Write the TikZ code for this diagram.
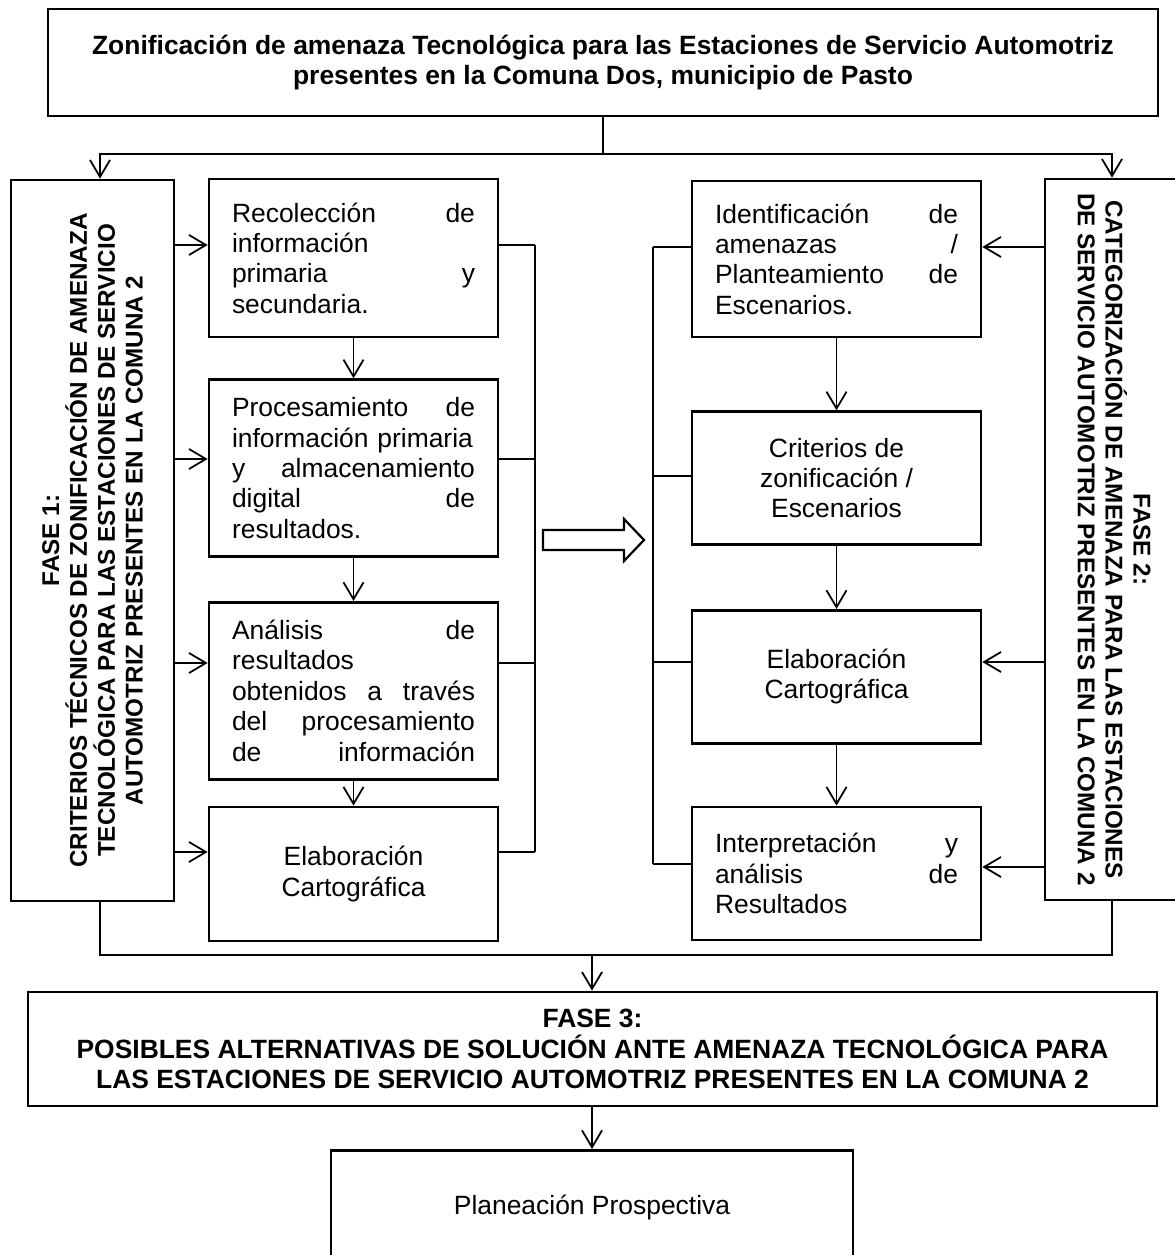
\documentclass[tikz,border=0pt]{standalone}
\usepackage{fontspec}
\setmainfont{Liberation Sans}
\usetikzlibrary{positioning,arrows.meta,calc}
\newlength\px
\setlength\px{0.454pt}
\tikzset{
  box/.style      = {draw, line width=1.2pt, inner sep=0pt, minimum width=289\px,
                     font=\fontsize{12}{13.8}\selectfont},
  jbox/.style     = {box, align=left, text width=243\px},
  cbox/.style     = {box, align=center},
  phase/.style    = {draw, line width=1.2pt, inner sep=0pt},
  phasetxt/.style = {font=\fontsize{12}{13.8}\selectfont\bfseries, align=center},
  sidetxt/.style  = {font=\fontsize{11}{12.65}\selectfont\bfseries, align=center},
  flow/.style     = {-{Straight Barb[length=7.7pt,width=9.1pt]}, line width=0.8pt},
  link/.style     = {line width=0.8pt},
}
\begin{document}
\begin{tikzpicture}[x=\px, y=-\px]
\useasboundingbox (0,0) rectangle (1174,1255);

\node[box, phasetxt, minimum width=1110\px, minimum height=107\px] (title) at (603,62.5)
  {Zonificación de amenaza Tecnológica para las Estaciones de Servicio Automotriz\\
   presentes en la Comuna Dos, municipio de Pasto};

% fase 1 and its steps
\node[phase, minimum width=163\px, minimum height=721\px] (fase1) at (92.5,540.5) {};
\node[sidetxt, rotate=90] (fase1txt) at (fase1.center)
  {FASE 1:\\CRITERIOS TÉCNICOS DE ZONIFICACIÓN DE AMENAZA\\
   TECNOLÓGICA PARA LAS ESTACIONES DE SERVICIO\\AUTOMOTRIZ PRESENTES EN LA COMUNA 2};

\node[jbox, minimum height=158\px] (l1) at (353.5,258)
  {Recolección\hfill de\\información\\primaria\hfill y\\secundaria.};
\node[jbox, minimum height=177\px, below=40\px of l1] (l2)
  {Procesamiento\hfill de\\información primaria\\y\hfill almacenamiento\\digital\hfill de\\resultados.};
\node[jbox, minimum height=177\px, below=43\px of l2] (l3)
  {Análisis\hfill de\\resultados\\obtenidos\hfill a\hfill través\\del\hfill procesamiento\\de\hfill información};
\node[cbox, minimum height=134\px, below=25\px of l3] (l4) {Elaboración\\Cartográfica};

% fase 2 and its steps
\node[jbox, minimum height=156\px] (r1) at (836.5,259)
  {Identificación\hfill de\\amenazas\hfill /\\Planteamiento\hfill de\\Escenarios.};
\node[cbox, minimum height=133\px, below=72\px of r1] (r2) {Criterios de\\zonificación /\\Escenarios};
\node[cbox, minimum height=133\px, below=63\px of r2] (r3) {Elaboración\\Cartográfica};
\node[jbox, minimum height=133\px, below=61\px of r3] (r4)
  {Interpretación\hfill y\\análisis\hfill de\\Resultados};

\node[phase, minimum width=138\px, minimum height=721\px] (fase2) at (1114,539.5) {};
\node[sidetxt, rotate=-90] (fase2txt) at (fase2.center)
  {FASE 2:\\CATEGORIZACIÓN DE AMENAZA PARA LAS ESTACIONES\\
   DE SERVICIO AUTOMOTRIZ PRESENTES EN LA COMUNA 2};

% fase 3
\node[phase, phasetxt, minimum width=1129\px, minimum height=114\px] (fase3) at (592.5,1049)
  {FASE 3:\\POSIBLES ALTERNATIVAS DE SOLUCIÓN ANTE AMENAZA TECNOLÓGICA PARA\\
   LAS ESTACIONES DE SERVICIO AUTOMOTRIZ PRESENTES EN LA COMUNA 2};
\node[box, minimum width=522\px, minimum height=114\px, anchor=north] (plan) at (592,1149)
  {Planeación Prospectiva};

\coordinate (lfork) at (100,154);
\coordinate (rfork) at (1112,154);
\coordinate (join) at (592,955);
\coordinate (lbar) at (535,0);
\coordinate (rbar) at (653,0);

% top split
\draw[flow] (title.south) |- (lfork) -- (lfork |- fase1.north);
\draw[flow] (title.south) |- (rfork) -- (rfork |- fase2.north);

% fase 1 into its steps, bracket on the right
\foreach \b/\y in {l1/245,l2/459,l3/663,l4/852} {
  \draw[flow] (fase1.east |- 0,\y) -- (\b.west |- 0,\y);
  \draw[link] (\b.east |- 0,\y) -- (lbar |- 0,\y);
}
\draw[link] (lbar |- 0,245) -- (lbar |- 0,852);

% fase 2 into its steps, bracket on the left
\foreach \b/\y in {r1/247,r3/662,r4/867}
  \draw[flow] (fase2.west |- 0,\y) -- (\b.east |- 0,\y);
\foreach \b/\y in {r1/247,r2/476,r3/662,r4/864}
  \draw[link] (rbar |- 0,\y) -- (\b.west |- 0,\y);
\draw[link] (rbar |- 0,247) -- (rbar |- 0,864);

\foreach \a/\b in {l1/l2,l2/l3,l3/l4,r1/r2,r2/r3,r3/r4}
  \draw[flow] (\a) -- (\b);

% hollow arrow between the columns
\draw[line width=1pt] (543,530) -- (624,530) -- (624,519) -- (644,540)
  -- (624,561) -- (624,550) -- (543,550) -- cycle;

% bottom merge
\draw[link] (fase1.south -| lfork) |- (rfork |- join) -- (rfork |- fase2.south);
\draw[flow] (join) -- (fase3.north -| join);
\draw[flow] (fase3.south -| join) -- (plan.north -| join);

\end{tikzpicture}
\end{document}
